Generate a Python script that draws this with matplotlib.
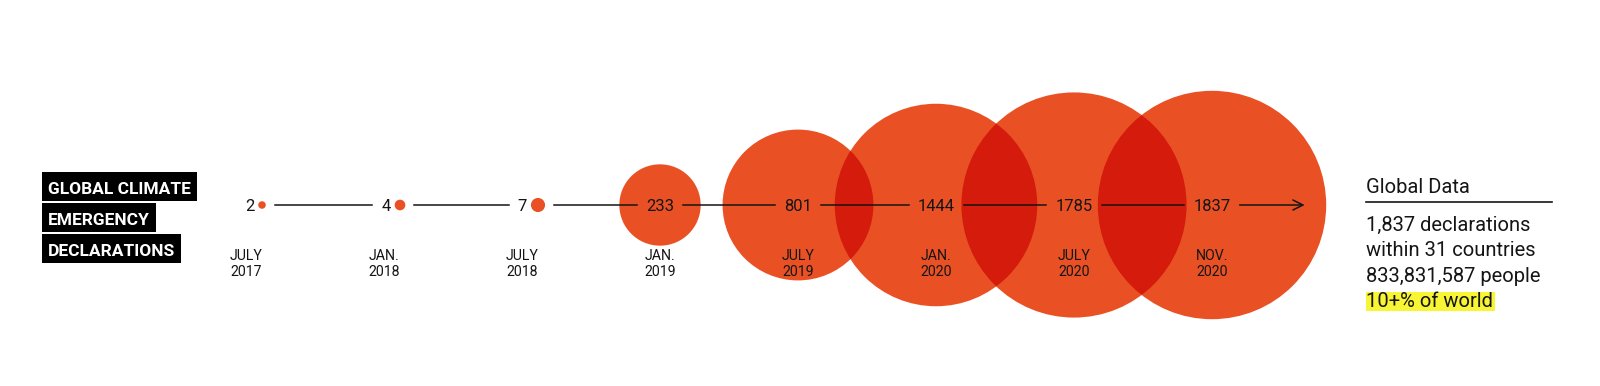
import numpy as np
import matplotlib.pyplot as plt
from matplotlib.patches import Circle, Rectangle

plt.rcParams['font.family'] = ['Roboto', 'DejaVu Sans']

# data
declarations = [2, 4, 7, 233, 801, 1444, 1785, 1837]
months = ['JULY', 'JAN.', 'JULY', 'JAN.', 'JULY', 'JAN.', 'JULY', 'NOV.']
years = ['2017', '2018', '2018', '2019', '2019', '2020', '2020', '2020']
title_lines = ['GLOBAL CLIMATE', 'EMERGENCY', 'DECLARATIONS']
summary_title = 'Global Data'
summary_lines = ['1,837 declarations', 'within 31 countries', '833,831,587 people']
summary_highlight = '10+% of world'

W, H = 1600, 386
X0, STEP, LINE_Y = 246, 138, 205
AREA_PER_DECL = 7.1   # px^2 of bubble per declaration
GAP = 9
ORANGE = '#e95125'
OVERLAP = '#d41b0c'
INK = '#151515'

fig = plt.figure(figsize=(W / 100, H / 100), dpi=100)
ax = fig.add_axes([0, 0, 1, 1])
ax.set_xlim(0, W)
ax.set_ylim(H, 0)
ax.axis('off')
renderer = fig.canvas.get_renderer()


def x_extent(t):
    bb = t.get_window_extent(renderer)
    return bb.x0, bb.x1


circles = []
lefts, rights = [], []
for i, n in enumerate(declarations):
    col = X0 + STEP * i
    r = np.sqrt(n * AREA_PER_DECL)
    if r < 15:
        # small dot sits right of its number
        cx = col + 16
        lab = ax.text(cx - r - 4, LINE_Y + 6, str(n), ha='right', va='baseline',
                      fontsize=12, color=INK, zorder=5)
        lefts.append(x_extent(lab)[0])
        rights.append(cx + r)
    else:
        cx = col
        lab = ax.text(cx, LINE_Y + 6, str(n), ha='center', va='baseline',
                      fontsize=12, color=INK, zorder=5)
        l, rr = x_extent(lab)
        lefts.append(l)
        rights.append(rr)
    c = Circle((cx, LINE_Y), r, fc=ORANGE, ec='none', zorder=1)
    ax.add_patch(c)
    circles.append(c)

    ax.text(col, 259.5, months[i], ha='center', va='baseline', fontsize=10.2, color=INK, zorder=5)
    ax.text(col, 276.5, years[i], ha='center', va='baseline', fontsize=10.2, color=INK, zorder=5)

# darker lens where neighbouring bubbles overlap
for a, b in zip(circles[:-1], circles[1:]):
    lens = Circle(b.center, b.radius, fc=OVERLAP, ec='none', zorder=2)
    ax.add_patch(lens)
    lens.set_clip_path(a)

# timeline, broken around the labels
for i in range(len(declarations) - 1):
    ax.plot([rights[i] + GAP, lefts[i + 1] - GAP], [LINE_Y, LINE_Y], color=INK, lw=1.1, zorder=3)
ax.annotate('', xy=(rights[-1] + GAP + 65, LINE_Y), xytext=(rights[-1] + GAP, LINE_Y),
            arrowprops=dict(arrowstyle='->', color=INK, lw=1.1, mutation_scale=18,
                            shrinkA=0, shrinkB=0), zorder=3)

# title blocks: black boxes behind white caps
for j, line in enumerate(title_lines):
    yc = 186.5 + 31 * j
    t = ax.text(48, yc + 7.2, line, ha='left', va='baseline', fontsize=12.5, fontweight='bold',
                color='white', zorder=6)
    l, rr = x_extent(t)
    ax.add_patch(Rectangle((l - 6, yc - 14.5), rr - l + 12, 29, fc='black', ec='none', zorder=5))

# summary on the right
ax.text(1366, 193, summary_title, ha='left', va='baseline', fontsize=14.5, color=INK)
ax.plot([1366, 1552], [202, 202], color=INK, lw=1.2)
for j, line in enumerate(summary_lines):
    ax.text(1366, 231 + 25.3 * j, line, ha='left', va='baseline', fontsize=14.5, color=INK)
hl = ax.text(1366, 231 + 25.3 * 3, summary_highlight, ha='left', va='baseline', fontsize=14.5,
             color=INK, zorder=6)
l, rr = x_extent(hl)
ax.add_patch(Rectangle((l, 292), rr - l + 2, 19, fc='#f8f534', ec='none', zorder=5))

fig.savefig('out.png', dpi=100, facecolor='white')
